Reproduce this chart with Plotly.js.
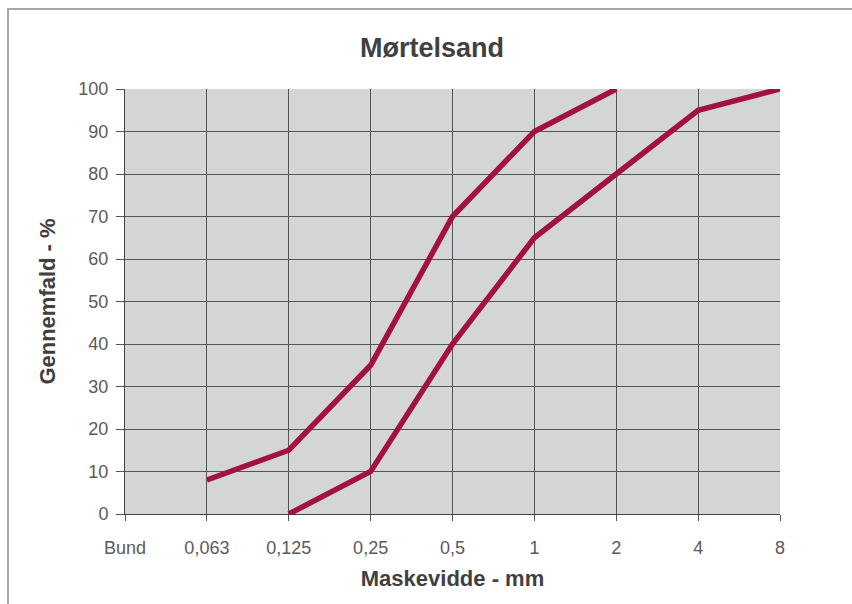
<!DOCTYPE html>
<html>
<head>
<meta charset="utf-8">
<script src="https://cdn.plot.ly/plotly-3.0.1.min.js"></script>
<style>
html,body{margin:0;padding:0;background:#fff;}
#wrap{position:relative;width:852px;height:604px;overflow:hidden;}
#chart{position:absolute;left:0;top:0;width:852px;height:604px;}
#frame{position:absolute;left:7px;top:8px;width:900px;height:700px;border-left:2px solid #a8a8a8;border-top:2px solid #a8a8a8;pointer-events:none;}
</style>
</head>
<body>
<div id="wrap"><div id="chart"></div><div id="frame"></div></div>
<script>
const categories = ['Bund','0,063','0,125','0,25','0,5','1','2','4','8'];
const upperX = ['0,063','0,125','0,25','0,5','1','2'];
const upperY = [8, 15, 35, 70, 90, 100];
const lowerX = ['0,125','0,25','0,5','1','2','4','8'];
const lowerY = [0, 10, 40, 65, 80, 95, 100];
const yTicks = [0,10,20,30,40,50,60,70,80,90,100];

const lineColor = '#a3113f';
const traces = [
  {x: upperX, y: upperY, type: 'scatter', mode: 'lines', line: {color: lineColor, width: 5.5}, hoverinfo: 'skip', showlegend: false},
  {x: lowerX, y: lowerY, type: 'scatter', mode: 'lines', line: {color: lineColor, width: 5.5}, hoverinfo: 'skip', showlegend: false}
];

const layout = {
  width: 852, height: 604,
  margin: {l: 125, r: 72, t: 89, b: 90},
  paper_bgcolor: '#ffffff',
  plot_bgcolor: '#d3d5d7',
  font: {family: 'Liberation Sans, Arial, sans-serif', color: '#555'},
  title: {text: '<b>Mørtelsand</b>', xref: 'container', x: 0.507, xanchor: 'center', yref: 'container', y: 0.922, yanchor: 'middle', font: {size: 27, color: '#404040'}},
  xaxis: {
    type: 'category', categoryorder: 'array', categoryarray: categories,
    tickvals: categories, ticktext: categories,
    range: [0, 8],
    showgrid: true, gridcolor: '#555', gridwidth: 1,
    showline: true, linecolor: '#444', linewidth: 1,
    ticks: 'outside', ticklen: 6, tickcolor: '#555',
    ticklabelstandoff: 11,
    tickfont: {size: 18, color: '#5a5a5a'},
    title: {text: '<b>Maskevidde - mm</b>', font: {size: 22, color: '#404040'}, standoff: 14},
    fixedrange: true
  },
  yaxis: {
    range: [0, 100], tickvals: yTicks,
    showgrid: true, gridcolor: '#555', gridwidth: 1,
    zeroline: false,
    showline: true, linecolor: '#444', linewidth: 1,
    ticks: 'outside', ticklen: 8, tickcolor: '#555',
    ticklabelstandoff: 4,
    tickfont: {size: 18, color: '#5a5a5a'},
    title: {text: '<b>Gennemfald - %</b>', font: {size: 22, color: '#404040'}, standoff: 16},
    fixedrange: true
  }
};

Plotly.newPlot('chart', traces, layout, {displayModeBar: false, staticPlot: true});
</script>
</body>
</html>
